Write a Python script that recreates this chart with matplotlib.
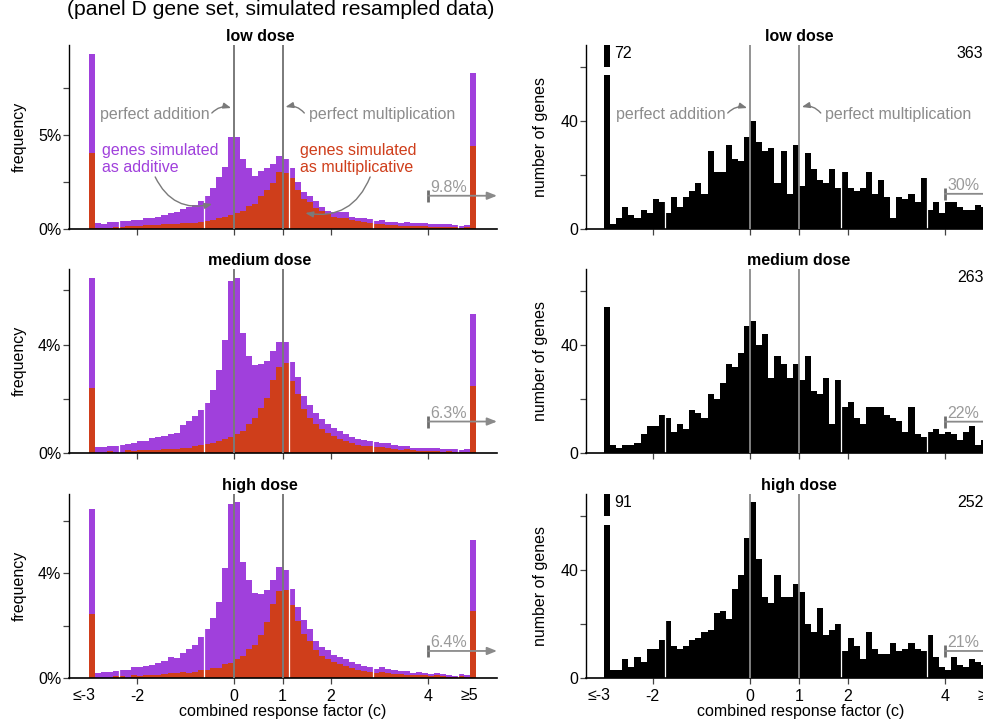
import numpy as np
import matplotlib.pyplot as plt

plt.rcParams['font.family'] = ['Liberation Sans', 'DejaVu Sans']
plt.rcParams['font.size'] = 11.5

PURPLE = '#a040dc'
ORANGE = '#cf3e1b'
GRAY_LINE = '#7a7a7a'
GRAY_TEXT = '#8c8c8c'

# regular bins of 0.125 from -2.875 to 4.875, plus the <=-3 and >=5 bins
bin_left = -2.875 + 0.125 * np.arange(62)

doses = ['low dose', 'medium dose', 'high dose']

# frequency (%) of all genes (purple top) and of multiplicative genes (orange)
freq_all_low = [0.30, 0.25, 0.35, 0.35, 0.40, 0.43, 0.48, 0.50, 0.57, 0.60,
                0.65, 0.75, 0.83, 0.92, 1.05, 1.19, 1.28, 1.49, 1.75, 2.16,
                2.75, 3.28, 4.91, 4.88, 3.70, 3.26, 2.84, 3.10, 3.23, 3.44,
                3.88, 3.70, 3.26, 2.48, 1.99, 1.77, 1.49, 1.19, 0.96, 0.89,
                0.89, 0.89, 0.66, 0.60, 0.57, 0.51, 0.43, 0.48, 0.35, 0.35,
                0.30, 0.35, 0.30, 0.30, 0.30, 0.25, 0.25, 0.25, 0.25, 0.21,
                0.16, 0.21]
freq_mult_low = [0.07, 0.07, 0.07, 0.10, 0.12, 0.16, 0.16, 0.18, 0.20, 0.21,
                 0.21, 0.25, 0.25, 0.28, 0.32, 0.34, 0.34, 0.37, 0.43, 0.48,
                 0.60, 0.64, 0.74, 0.85, 0.98, 1.24, 1.33, 1.76, 2.07, 2.46,
                 3.01, 3.00, 2.70, 2.07, 1.60, 1.42, 1.13, 0.96, 0.78, 0.66,
                 0.60, 0.60, 0.48, 0.43, 0.39, 0.34, 0.27, 0.28, 0.21, 0.20,
                 0.18, 0.18, 0.16, 0.14, 0.14, 0.12, 0.12, 0.12, 0.11, 0.11,
                 0.07, 0.11]
freq_all_med = [0.23, 0.23, 0.27, 0.27, 0.31, 0.34, 0.38, 0.46, 0.46, 0.57,
                0.60, 0.64, 0.71, 0.75, 1.05, 1.19, 1.38, 1.60, 1.86, 2.34,
                3.08, 4.18, 6.33, 6.44, 4.44, 3.59, 3.26, 3.30, 3.41, 3.78,
                4.11, 4.11, 3.36, 2.81, 2.12, 1.77, 1.48, 1.26, 1.08, 0.92,
                0.82, 0.70, 0.60, 0.54, 0.49, 0.46, 0.42, 0.38, 0.38, 0.31,
                0.27, 0.27, 0.20, 0.20, 0.20, 0.20, 0.20, 0.16, 0.16, 0.16,
                0.12, 0.16]
freq_mult_med = [0.02, 0.02, 0.09, 0.02, 0.02, 0.12, 0.10, 0.12, 0.11, 0.12,
                 0.12, 0.17, 0.17, 0.17, 0.20, 0.20, 0.27, 0.31, 0.34, 0.39,
                 0.47, 0.54, 0.60, 0.71, 0.84, 1.08, 1.29, 1.67, 2.04, 2.70,
                 3.19, 3.34, 2.67, 2.19, 1.64, 1.30, 1.08, 0.90, 0.75, 0.64,
                 0.54, 0.47, 0.38, 0.31, 0.27, 0.27, 0.23, 0.23, 0.20, 0.17,
                 0.14, 0.17, 0.14, 0.10, 0.10, 0.10, 0.10, 0.06, 0.10, 0.06,
                 0.06, 0.06]
freq_all_high = [0.20, 0.24, 0.24, 0.28, 0.32, 0.32, 0.43, 0.43, 0.47, 0.51,
                 0.59, 0.66, 0.81, 0.78, 0.97, 1.12, 1.27, 1.58, 1.88, 2.30,
                 2.91, 4.21, 6.62, 6.69, 4.44, 3.75, 3.26, 3.22, 3.37, 3.75,
                 4.25, 4.13, 3.41, 2.72, 2.23, 1.88, 1.42, 1.20, 1.08, 0.89,
                 0.81, 0.74, 0.62, 0.55, 0.47, 0.43, 0.36, 0.43, 0.36, 0.32,
                 0.28, 0.28, 0.20, 0.24, 0.20, 0.18, 0.20, 0.18, 0.13, 0.10,
                 0.18, 0.13]
freq_mult_high = [0.03, 0.03, 0.03, 0.09, 0.09, 0.03, 0.13, 0.10, 0.13, 0.13,
                  0.13, 0.18, 0.20, 0.20, 0.24, 0.20, 0.25, 0.32, 0.32, 0.39,
                  0.39, 0.56, 0.59, 0.73, 0.85, 1.12, 1.27, 1.65, 2.15, 2.84,
                  3.33, 3.37, 2.80, 2.19, 1.69, 1.42, 1.08, 0.85, 0.74, 0.62,
                  0.56, 0.48, 0.39, 0.33, 0.28, 0.25, 0.20, 0.25, 0.20, 0.18,
                  0.18, 0.14, 0.13, 0.13, 0.13, 0.09, 0.13, 0.09, 0.05, 0.05,
                  0.09, 0.05]

# edge bins (<=-3 and >=5), per dose
under_all = [9.30, 6.44, 6.43]
under_mult = [4.04, 2.42, 2.45]
over_all = [8.30, 5.11, 5.28]
over_mult = [4.43, 2.46, 2.57]

# number of genes per bin
genes_low = [2, 4, 8, 5, 4, 7, 6, 11, 10, 6,
             12, 8, 12, 14, 17, 13, 29, 21, 21, 31,
             26, 25, 34, 40, 32, 29, 30, 17, 29, 13,
             31, 16, 28, 22, 18, 17, 22, 15, 21, 15,
             14, 15, 21, 13, 18, 12, 4, 12, 11, 13,
             10, 19, 7, 10, 6, 10, 10, 8, 7, 7,
             9, 8]
genes_med = [3, 2, 3, 3, 4, 7, 10, 10, 14, 13,
             8, 11, 9, 16, 15, 13, 22, 20, 26, 33,
             32, 37, 47, 49, 40, 44, 28, 36, 33, 28,
             33, 27, 36, 23, 22, 28, 11, 27, 17, 19,
             13, 11, 17, 17, 17, 14, 13, 12, 8, 17,
             7, 6, 8, 9, 7, 8, 7, 5, 8, 10,
             3, 5]
genes_high = [3, 3, 7, 4, 8, 6, 11, 11, 14, 21,
              12, 11, 12, 14, 15, 17, 18, 24, 25, 22,
              33, 38, 52, 65, 44, 30, 28, 38, 30, 30,
              35, 32, 20, 17, 26, 16, 18, 20, 10, 15,
              12, 7, 17, 11, 9, 9, 13, 10, 11, 13,
              11, 10, 16, 8, 4, 3, 8, 5, 4, 7,
              6, 5]
genes_under = [72, 54, 91]
genes_over = [363, 263, 252]

# share of genes with c >= 4
pct_freq = ['9.8%', '6.3%', '6.4%']
pct_genes = ['30%', '22%', '21%']

freq_all = [freq_all_low, freq_all_med, freq_all_high]
freq_mult = [freq_mult_low, freq_mult_med, freq_mult_high]
genes = [genes_low, genes_med, genes_high]

freq_ymax = [9.79, 6.77, 7.0]
freq_ticks = [[0, 2.5, 5, 7.5], [0, 2, 4, 6], [0, 2, 4, 6]]
freq_labels = [['0%', '', '5%', ''], ['0%', '', '4%', ''], ['0%', '', '4%', '']]
freq_arrow_y = [1.77, 1.17, 1.04]
genes_arrow_y = [13.0, 11.7, 10.1]
GENES_YMAX = 68

fig = plt.figure(figsize=(9.83, 7.19), dpi=100)
row_bottom = [0.6815, 0.3695, 0.0566]
row_h = 0.2559

edges_x = np.concatenate([[-3.0], bin_left, [4.875]])


def style_axes(ax, xlim, bottom_row):
    ax.set_xlim(*xlim)
    for s in ['top', 'right']:
        ax.spines[s].set_visible(False)
    ax.spines['left'].set_linewidth(1.0)
    ax.spines['bottom'].set_linewidth(1.2)
    ax.tick_params(axis='y', length=4.5, width=0.9, pad=1, color='#444444')
    ax.tick_params(axis='x', which='major', length=4, width=0.9, pad=4, color='#444444')
    ax.set_xticks([-2, 0, 1, 2, 4])
    if bottom_row:
        ax.set_xticklabels(['-2', '0', '1', '2', '4'])
        ax.set_xticks([-3.1, 4.85], ['≤-3', '≥5'], minor=True)
        ax.tick_params(axis='x', which='minor', length=0, pad=7)
        ax.set_xlabel('combined response factor (c)', labelpad=0)
    else:
        ax.set_xticklabels([])
        ax.set_xticks([], minor=True)


def ge4_arrow(ax, y, txt, right):
    ax.annotate('', xy=(right, y), xytext=(4, y),
                arrowprops=dict(arrowstyle='-|>,head_length=0.5,head_width=0.2',
                                color='#8a8a8a', lw=1.3, shrinkA=0, shrinkB=0),
                annotation_clip=False)
    ax.plot([4], [y], marker='|', ms=8, mew=2, color='#6e6e6e', clip_on=False)
    ax.annotate(txt, (4, y), xytext=(2, 0.5), textcoords='offset points',
                color='#9a9a9a', ha='left', va='bottom')


def perfect_labels(ax, ymax, px_per_unit):
    # positions given as pixel offsets turned into data units
    yt = ymax * (229 - 114) / 184
    ax.text(-0.5, yt, 'perfect addition', color=GRAY_TEXT, ha='right', va='center')
    ax.text(1.54, yt, 'perfect multiplication', color=GRAY_TEXT, ha='left', va='center')
    arrow = dict(arrowstyle='-|>,head_length=0.4,head_width=0.15', color=GRAY_LINE,
                 lw=1, shrinkA=0, shrinkB=0)
    ax.annotate('', xy=(-0.06, ymax * 121 / 184), xytext=(-0.46, ymax * 116 / 184),
                arrowprops=dict(arrow, connectionstyle='arc3,rad=-0.3'))
    ax.annotate('', xy=(1.06, ymax * 122 / 184), xytext=(1.45, ymax * 116 / 184),
                arrowprops=dict(arrow, connectionstyle='arc3,rad=0.3'))


for r in range(3):
    # ---------- left: stacked frequency ----------
    ax = fig.add_axes([69 / 983, row_bottom[r], 428 / 983, row_h])
    tot = [under_all[r]] + freq_all[r] + [over_all[r]]
    mul = [under_mult[r]] + freq_mult[r] + [over_mult[r]]
    ax.bar(edges_x, tot, width=0.125, align='edge', color=PURPLE, lw=0, zorder=2)
    ax.bar(edges_x, mul, width=0.125, align='edge', color=ORANGE, lw=0, zorder=2.1)
    for xv in [-2.375, -0.625, 1.125, 2.875, 4.625]:
        ax.axvline(xv, color='white', lw=0.9, zorder=2.5)
    ax.axvline(0, color=GRAY_LINE, lw=1.4, zorder=3)
    ax.axvline(1, color=GRAY_LINE, lw=1.4, zorder=3)
    ax.set_ylim(0, freq_ymax[r])
    ax.set_yticks(freq_ticks[r])
    ax.set_yticklabels(freq_labels[r])
    style_axes(ax, (-3.41, 5.43), r == 2)
    ax.set_ylabel('frequency')
    ax.yaxis.set_label_coords(-0.098, 0.5)
    ax.set_title(doses[r], x=0.446, pad=3, fontweight='bold', fontsize=11.5)
    ge4_arrow(ax, freq_arrow_y[r], pct_freq[r], 5.43)
    if r == 0:
        ym = freq_ymax[r]
        perfect_labels(ax, ym, 48.4)
        ax.text(-2.73, 3.72, 'genes simulated\nas additive', color=PURPLE,
                ha='left', va='center', linespacing=1.1)
        ax.text(1.37, 3.72, 'genes simulated\nas multiplicative', color=ORANGE,
                ha='left', va='center', linespacing=1.1)
        arr = dict(arrowstyle='-|>,head_length=0.4,head_width=0.15', color=GRAY_LINE,
                   lw=1, shrinkA=0, shrinkB=0)
        ax.annotate('', xy=(-0.45, 1.33), xytext=(-1.63, 2.77),
                    arrowprops=dict(arr, connectionstyle='arc3,rad=0.4'))
        ax.annotate('', xy=(1.47, 0.85), xytext=(2.81, 2.77),
                    arrowprops=dict(arr, connectionstyle='arc3,rad=-0.4'))

    # ---------- right: number of genes ----------
    ax2 = fig.add_axes([586 / 983, row_bottom[r], 428.6 / 983, row_h])
    cnt = [genes_under[r]] + genes[r] + [genes_over[r]]
    shown = [min(v, GENES_YMAX) for v in cnt]
    ax2.bar(edges_x, shown, width=0.125, align='edge', color='black', lw=0, zorder=2)
    for xv in [-1.75, 1.875, 3.625]:
        ax2.axvline(xv, color='white', lw=0.9, zorder=2.5)
    ax2.axvline(0, color='#8a8a8a', lw=1.3, zorder=3)
    ax2.axvline(1, color='#8a8a8a', lw=1.3, zorder=3)
    if genes_under[r] > GENES_YMAX:
        ax2.add_patch(plt.Rectangle((-3.02, 56.8), 0.165, 3.0, color='white', lw=0, zorder=2.6))
        ax2.annotate(str(genes_under[r]), (-2.875, 64.8), xytext=(3, 0),
                     textcoords='offset points', ha='left', va='center')
    ax2.annotate(str(genes_over[r]), (4.875, 64.8), xytext=(-3, 0),
                 textcoords='offset points', ha='right', va='center')
    ax2.set_ylim(0, GENES_YMAX)
    ax2.set_yticks([0, 20, 40, 60])
    ax2.set_yticklabels(['0', '', '40', ''])
    style_axes(ax2, (-3.37, 5.43), r == 2)
    ax2.set_ylabel('number of genes')
    ax2.yaxis.set_label_coords(-0.088, 0.5)
    ax2.set_title(doses[r], x=0.497, pad=3, fontweight='bold', fontsize=11.5)
    ge4_arrow(ax2, genes_arrow_y[r], pct_genes[r], 5.43)
    if r == 0:
        perfect_labels(ax2, GENES_YMAX, 48.7)

fig.text(67 / 983, 1 - 15 / 719, '(panel D gene set, simulated resampled data)',
         fontsize=15.2, ha='left', va='baseline')

fig.savefig('out.png', dpi=100)
